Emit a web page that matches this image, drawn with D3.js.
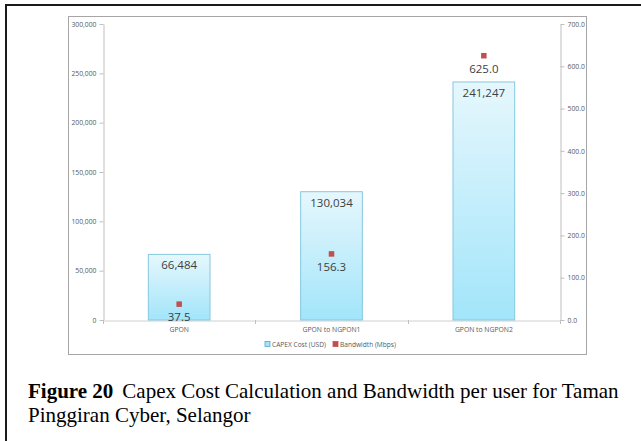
<!DOCTYPE html>
<html>
<head>
<meta charset="utf-8">
<script src="https://cdn.jsdelivr.net/npm/d3@7"></script>
<style>
  html, body { margin: 0; padding: 0; background: #fff; }
  svg { display: block; }
</style>
</head>
<body>
<svg id="chart" width="641" height="441"></svg>
<script>
// Scenario categories and measured series
const categories = ["GPON", "GPON to NGPON1", "GPON to NGPON2"];
const capexCost = [66484, 130034, 241247];      // USD, left axis
const bandwidth = [37.5, 156.3, 625.0];         // Mbps, right axis
const capexTicks = [0, 50000, 100000, 150000, 200000, 250000, 300000];
const bandwidthTicks = [0, 100, 200, 300, 400, 500, 600, 700];
const legendLabels = ["CAPEX Cost (USD)", "Bandwidth (Mbps)"];
const captionBold = "Figure 20";
const captionLine1 = "Capex Cost Calculation and Bandwidth per user for Taman";
const captionLine2 = "Pinggiran Cyber, Selangor";

const svg = d3.select("#chart");
const uiFont = "'Open Sans', 'Liberation Sans', sans-serif";

// Page frame (top and left rules of the figure box)
svg.append("line").attr("x1", 6).attr("x2", 641).attr("y1", 5).attr("y2", 5)
  .attr("stroke", "#1a1a1a").attr("stroke-width", 2);
svg.append("line").attr("x1", 6).attr("x2", 6).attr("y1", 4).attr("y2", 441)
  .attr("stroke", "#1a1a1a").attr("stroke-width", 2);

// Chart area border
svg.append("rect").attr("x", 68.5).attr("y", 16.5).attr("width", 518).attr("height", 338)
  .attr("fill", "#fff").attr("stroke", "#a6a6a6").attr("stroke-width", 1);

const plot = { left: 103, right: 560, top: 24, bottom: 320 };

const x = d3.scaleBand().domain(categories).range([plot.left, plot.right]).padding(0);
const yL = d3.scaleLinear().domain([0, 300000]).range([plot.bottom, plot.top]);
const yR = d3.scaleLinear().domain([0, 700]).range([plot.bottom, plot.top]);

// Gradient for the bars
const defs = svg.append("defs");
const grad = defs.append("linearGradient").attr("id", "barGrad")
  .attr("x1", 0).attr("y1", 0).attr("x2", 0).attr("y2", 1);
grad.append("stop").attr("offset", "0%").attr("stop-color", "#e6f7fd");
grad.append("stop").attr("offset", "100%").attr("stop-color", "#a2e5fa");

// Axes
function styleAxis(g) {
  g.select(".domain").attr("stroke", "#bfbfbf");
  g.selectAll(".tick line").attr("stroke", "#bfbfbf");
  g.selectAll(".tick text").attr("fill", "#595959")
    .attr("font-family", uiFont).attr("font-size", 6.8);
}

svg.append("g").attr("transform", `translate(${plot.left + 0.5},0)`)
  .call(d3.axisLeft(yL).tickValues(capexTicks).tickFormat(d3.format(","))
    .tickSize(4).tickSizeOuter(0).tickPadding(3))
  .call(styleAxis);

svg.append("g").attr("transform", `translate(${plot.right + 0.5},0)`)
  .call(d3.axisRight(yR).tickValues(bandwidthTicks).tickFormat(d3.format(".1f"))
    .tickSize(4).tickSizeOuter(0).tickPadding(3))
  .call(styleAxis);

const xAxis = svg.append("g").attr("transform", `translate(0,${plot.bottom + 0.5})`)
  .call(d3.axisBottom(x).tickSize(0).tickSizeOuter(0).tickPadding(7))
  .call(styleAxis);
xAxis.select(".domain").attr("stroke", "#d0d0d0");

// Category boundary ticks
const boundaries = categories.map(c => x(c)).concat([x(categories[categories.length - 1]) + x.bandwidth()]);
svg.append("g").selectAll("line").data(boundaries).join("line")
  .attr("x1", d => Math.round(d) + 0.5).attr("x2", d => Math.round(d) + 0.5)
  .attr("y1", plot.bottom).attr("y2", plot.bottom + 4)
  .attr("stroke", "#bfbfbf");

// Bars
const barW = x.bandwidth() * 0.405;
const cx = c => x(c) + x.bandwidth() / 2;
svg.append("g").selectAll("rect").data(categories).join("rect")
  .attr("x", c => cx(c) - barW / 2)
  .attr("y", (c, i) => yL(capexCost[i]))
  .attr("width", barW)
  .attr("height", (c, i) => yL(0) - yL(capexCost[i]))
  .attr("fill", "url(#barGrad)")
  .attr("stroke", "#86c8de").attr("stroke-width", 1);

// Bar value labels
svg.append("g").selectAll("text").data(categories).join("text")
  .attr("x", c => cx(c))
  .attr("y", (c, i) => yL(capexCost[i]) + 15)
  .attr("text-anchor", "middle")
  .attr("font-family", uiFont).attr("font-size", 11.5)
  .attr("fill", "#404040")
  .text((c, i) => d3.format(",")(capexCost[i]));

// Bandwidth markers
const mk = 5.5;
svg.append("g").selectAll("rect").data(categories).join("rect")
  .attr("x", c => cx(c) - mk / 2)
  .attr("y", (c, i) => yR(bandwidth[i]) - mk / 2)
  .attr("width", mk).attr("height", mk)
  .attr("fill", "#c0504d");

svg.append("g").selectAll("text").data(categories).join("text")
  .attr("x", c => cx(c))
  .attr("y", (c, i) => yR(bandwidth[i]) + 17)
  .attr("text-anchor", "middle")
  .attr("font-family", uiFont).attr("font-size", 11.5)
  .attr("fill", "#404040")
  .text((c, i) => d3.format(".1f")(bandwidth[i]));

// Legend
const legend = svg.append("g").attr("transform", "translate(0,344)");
const legendItems = [
  { x: 265, fill: "#a8e2f6", stroke: "#4fa6d0" },
  { x: 333, fill: "#c0504d", stroke: "#c0504d" }
];
legendItems.forEach((it, i) => {
  legend.append("rect").attr("x", it.x).attr("y", -2.5).attr("width", 5).attr("height", 5)
    .attr("fill", it.fill).attr("stroke", it.stroke).attr("stroke-width", 0.8);
  legend.append("text").attr("x", it.x + 7).attr("y", 2.5)
    .attr("font-family", uiFont).attr("font-size", 6.6).attr("fill", "#595959")
    .text(legendLabels[i]);
});

// Caption
const cap = svg.append("g").attr("font-family", "'Liberation Serif', 'Times New Roman', serif")
  .attr("font-size", 21).attr("fill", "#000");
const l1 = cap.append("text").attr("x", 28).attr("y", 398);
l1.append("tspan").attr("font-weight", "bold").text(captionBold);
l1.append("tspan").attr("dx", 9).text(captionLine1);
cap.append("text").attr("x", 28).attr("y", 422).text(captionLine2);
</script>
</body>
</html>
